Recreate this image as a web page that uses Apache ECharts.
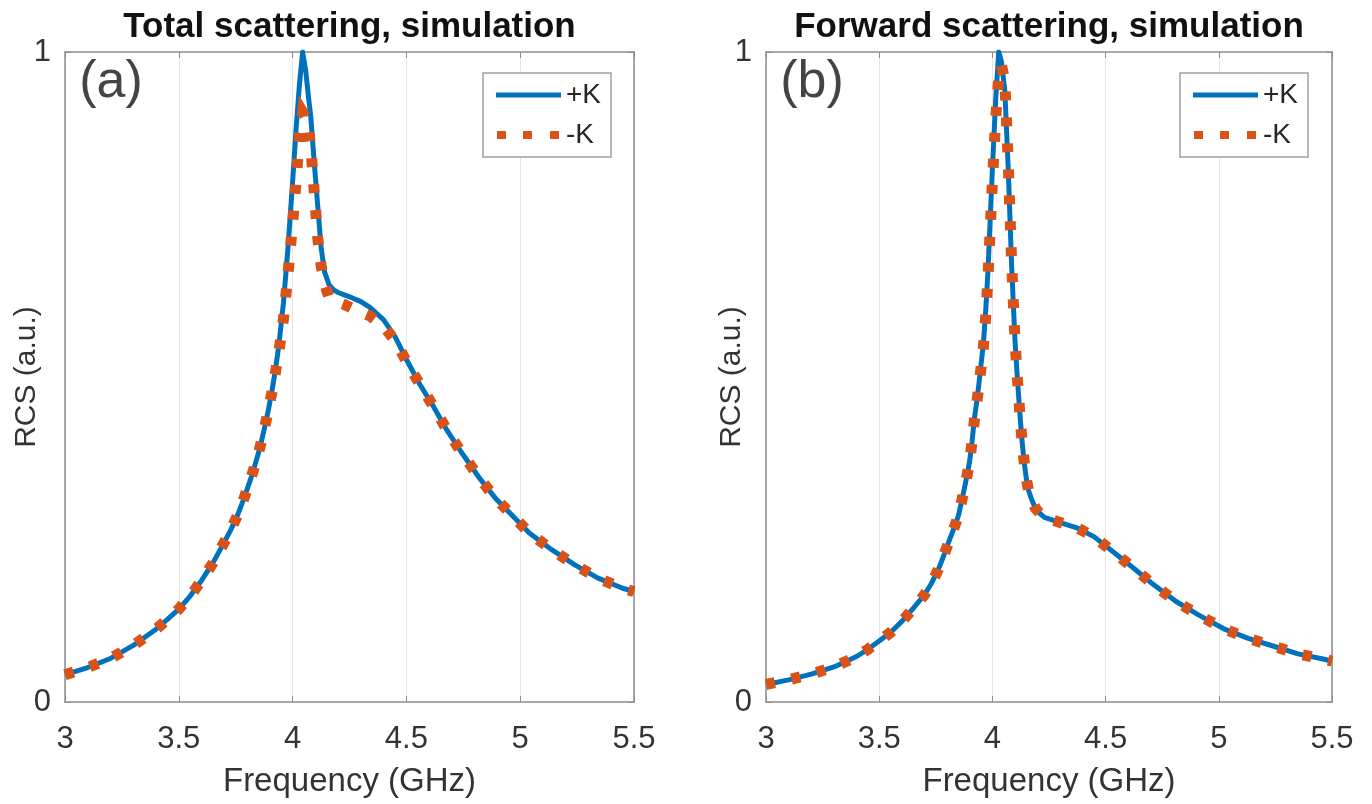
<!DOCTYPE html>
<html>
<head>
<meta charset="utf-8">
<script src="https://cdn.jsdelivr.net/npm/echarts@6/dist/echarts.min.js"></script>
<style>
html,body{margin:0;padding:0;background:#fff;}
#chart{width:1372px;height:804px;}
</style>
</head>
<body>
<div id="chart"></div>
<script>
// ---- data ----
const panelTitles = ['Total scattering, simulation', 'Forward scattering, simulation'];
const panelTags = ['(a)', '(b)'];
const seriesNames = ['+K', '-K'];
const xTickLabels = ['3', '3.5', '4', '4.5', '5', '5.5'];
const yTickLabels = ['0', '1'];

// Panel (a): total scattering
const freqA = [3.00, 3.10, 3.20, 3.30, 3.40, 3.45, 3.50, 3.55, 3.60, 3.65, 3.70, 3.73, 3.76, 3.785, 3.81, 3.83, 3.85, 3.865, 3.88, 3.895, 3.91, 3.925, 3.94, 3.96, 3.98, 4.00, 4.015, 4.03, 4.044, 4.058, 4.07, 4.08, 4.095, 4.11, 4.125, 4.14, 4.16, 4.18, 4.20, 4.23, 4.26, 4.30, 4.34, 4.40, 4.45, 4.50, 4.56, 4.62, 4.68, 4.74, 4.82, 4.89, 4.96, 5.04, 5.14, 5.24, 5.34, 5.45, 5.50];
const totalPlusK = [0.042, 0.053, 0.067, 0.087, 0.112, 0.127, 0.143, 0.163, 0.187, 0.214, 0.246, 0.266, 0.289, 0.312, 0.337, 0.359, 0.383, 0.404, 0.427, 0.452, 0.480, 0.512, 0.550, 0.615, 0.700, 0.800, 0.880, 0.950, 1.000, 0.970, 0.930, 0.900, 0.830, 0.765, 0.700, 0.662, 0.642, 0.634, 0.630, 0.626, 0.622, 0.616, 0.607, 0.588, 0.562, 0.527, 0.488, 0.454, 0.417, 0.385, 0.345, 0.314, 0.289, 0.260, 0.234, 0.211, 0.191, 0.175, 0.170];
const totalMinusK = [0.042, 0.053, 0.067, 0.087, 0.112, 0.127, 0.143, 0.163, 0.187, 0.214, 0.246, 0.266, 0.289, 0.312, 0.337, 0.359, 0.383, 0.404, 0.427, 0.452, 0.478, 0.508, 0.540, 0.590, 0.660, 0.735, 0.800, 0.868, 0.908, 0.900, 0.880, 0.855, 0.785, 0.715, 0.672, 0.645, 0.622, 0.618, 0.615, 0.611, 0.606, 0.600, 0.594, 0.578, 0.556, 0.524, 0.488, 0.454, 0.417, 0.385, 0.345, 0.314, 0.289, 0.260, 0.234, 0.211, 0.191, 0.175, 0.170];

// Panel (b): forward scattering
const freqB = [3.00, 3.10, 3.20, 3.30, 3.40, 3.45, 3.50, 3.55, 3.60, 3.65, 3.70, 3.73, 3.76, 3.785, 3.81, 3.83, 3.85, 3.865, 3.88, 3.89, 3.90, 3.91, 3.92, 3.93, 3.94, 3.95, 3.96, 3.97, 3.98, 3.99, 4.00, 4.015, 4.028, 4.04, 4.055, 4.07, 4.085, 4.10, 4.11, 4.12, 4.13, 4.14, 4.15, 4.16, 4.175, 4.19, 4.21, 4.23, 4.30, 4.38, 4.45, 4.53, 4.62, 4.71, 4.81, 4.91, 5.02, 5.13, 5.25, 5.35, 5.45, 5.50];
const forwardPlusK = [0.027, 0.034, 0.043, 0.054, 0.070, 0.081, 0.094, 0.107, 0.124, 0.144, 0.165, 0.182, 0.203, 0.225, 0.249, 0.267, 0.287, 0.310, 0.335, 0.352, 0.372, 0.400, 0.435, 0.460, 0.488, 0.520, 0.550, 0.600, 0.660, 0.740, 0.820, 0.930, 1.000, 0.985, 0.940, 0.820, 0.670, 0.555, 0.500, 0.450, 0.405, 0.370, 0.343, 0.325, 0.310, 0.298, 0.290, 0.284, 0.276, 0.267, 0.254, 0.232, 0.207, 0.181, 0.155, 0.134, 0.113, 0.098, 0.085, 0.074, 0.067, 0.063];
const forwardMinusK = [0.027, 0.034, 0.043, 0.054, 0.070, 0.081, 0.094, 0.107, 0.124, 0.144, 0.165, 0.182, 0.203, 0.225, 0.249, 0.267, 0.287, 0.310, 0.335, 0.352, 0.372, 0.400, 0.432, 0.457, 0.485, 0.515, 0.545, 0.590, 0.650, 0.725, 0.800, 0.900, 0.960, 0.980, 0.955, 0.830, 0.675, 0.555, 0.500, 0.450, 0.405, 0.370, 0.343, 0.325, 0.310, 0.298, 0.290, 0.284, 0.276, 0.267, 0.254, 0.232, 0.207, 0.181, 0.155, 0.134, 0.113, 0.098, 0.085, 0.074, 0.067, 0.063];

// ---- chart ----
const BLUE = '#0072BD', ORANGE = '#D95319';
const AXIS_COLOR = '#8c8c8c', TEXT = '#333333';
const FONT = '"Liberation Sans", Arial, Helvetica, sans-serif';
const grids = [
  {left: 65, right: 738, top: 52, bottom: 102},
  {left: 766, right: 40, top: 52, bottom: 102}
];
const pair = (xs, ys) => xs.map((x, i) => [x, ys[i]]);

const xAxes = [], yAxes = [];
grids.forEach((g, gi) => {
  xAxes.push({
    type: 'value', gridIndex: gi, position: 'bottom', min: 3, max: 5.5, interval: 0.5,
    name: 'Frequency (GHz)', nameLocation: 'middle', nameGap: 63, nameMoveOverlap: false,
    nameTextStyle: {fontFamily: FONT, fontSize: 33, color: TEXT},
    axisLine: {show: true, lineStyle: {color: AXIS_COLOR, width: 1.5}},
    axisTick: {show: true, inside: true, length: 6, lineStyle: {color: AXIS_COLOR}},
    axisLabel: {show: true, margin: 22, fontFamily: FONT, fontSize: 31, color: TEXT,
      showMinLabel: true, showMaxLabel: true,
      formatter: v => { const i = Math.round((v - 3) / 0.5); return xTickLabels[i] !== undefined ? xTickLabels[i] : ''; }},
    splitLine: {show: true, lineStyle: {color: '#e6e6e6', width: 1}}
  });
  xAxes.push({
    type: 'value', gridIndex: gi, position: 'top', min: 3, max: 5.5, interval: 0.5,
    axisLine: {show: true, onZero: false, lineStyle: {color: AXIS_COLOR, width: 1.5}},
    axisTick: {show: true, inside: true, length: 6, lineStyle: {color: AXIS_COLOR}},
    axisLabel: {show: false}, splitLine: {show: false}
  });
  yAxes.push({
    type: 'value', gridIndex: gi, position: 'left', min: 0, max: 1, interval: 1,
    name: 'RCS (a.u.)', nameLocation: 'middle', nameRotate: 90, nameGap: gi === 0 ? 23 : 19,
    nameMoveOverlap: false,
    nameTextStyle: {fontFamily: FONT, fontSize: 30, color: TEXT},
    axisLine: {show: true, lineStyle: {color: AXIS_COLOR, width: 1.5}},
    axisTick: {show: true, inside: true, length: 6, lineStyle: {color: AXIS_COLOR}},
    axisLabel: {show: true, margin: 14, fontFamily: FONT, fontSize: 31, color: TEXT,
      formatter: v => { const i = Math.round(v); return yTickLabels[i] !== undefined ? yTickLabels[i] : ''; }},
    splitLine: {show: false}
  });
  yAxes.push({
    type: 'value', gridIndex: gi, position: 'right', min: 0, max: 1, interval: 1,
    axisLine: {show: true, onZero: false, lineStyle: {color: AXIS_COLOR, width: 1.5}},
    axisTick: {show: true, inside: true, length: 6, lineStyle: {color: AXIS_COLOR}},
    axisLabel: {show: false}, splitLine: {show: false}
  });
});

function lineSeries(name, data, gi, dotted) {
  return {
    name: name, type: 'line', xAxisIndex: gi * 2, yAxisIndex: gi * 2,
    data: data, showSymbol: false, symbol: 'none', smooth: false,
    animation: false, z: dotted ? 4 : 3,
    lineStyle: dotted
      ? {color: ORANGE, width: 11, type: [9, 17], cap: 'butt', join: 'miter'}
      : {color: BLUE, width: 5, join: 'round'},
    itemStyle: {color: dotted ? ORANGE : BLUE},
    emphasis: {disabled: true}
  };
}

const series = [
  lineSeries(seriesNames[0], pair(freqA, totalPlusK), 0, false),
  lineSeries(seriesNames[1], pair(freqA, totalMinusK), 0, true),
  lineSeries(seriesNames[0], pair(freqB, forwardPlusK), 1, false),
  lineSeries(seriesNames[1], pair(freqB, forwardMinusK), 1, true)
];

// legend sample icons: solid bar for +K, three squares for -K
const ICON_SOLID = 'path://M0,0M0,2.5L65,2.5L65,7.5L0,7.5ZM65,10';
const ICON_DOTS = 'path://M0,0M1,1L10,1L10,9L1,9ZM27,1L36,1L36,9L27,9ZM54,1L63,1L63,9L54,9ZM65,10';

function legendAt(left) {
  return {
    data: [
      {name: seriesNames[0], icon: ICON_SOLID, itemStyle: {color: BLUE}},
      {name: seriesNames[1], icon: ICON_DOTS, itemStyle: {color: ORANGE}}
    ],
    left: left, top: 73, orient: 'vertical',
    backgroundColor: '#fff', borderColor: '#a0a0a0', borderWidth: 1.5,
    padding: [6, 10, 6, 13], itemGap: 8, itemWidth: 65, itemHeight: 10,
    selectedMode: false,
    textStyle: {fontFamily: FONT, fontSize: 28, color: '#262626', lineHeight: 32}
  };
}

const graphics = [];
grids.forEach((g, gi) => {
  const x0 = g.left, x1 = 1372 - g.right;
  graphics.push({type: 'text', x: (x0 + x1) / 2, y: 27, style: {text: panelTitles[gi], fontFamily: FONT, fontSize: 35, fontWeight: 'bold', fill: '#111', textAlign: 'center', textVerticalAlign: 'middle'}});
  graphics.push({type: 'text', x: x0 + 46, y: 83, style: {text: panelTags[gi], fontFamily: FONT, fontSize: 52, fill: '#444', textAlign: 'center', textVerticalAlign: 'middle'}});
});

const chart = echarts.init(document.getElementById('chart'), null, {renderer: 'canvas'});
chart.setOption({
  backgroundColor: '#fff',
  animation: false,
  grid: grids,
  xAxis: xAxes,
  yAxis: yAxes,
  legend: [legendAt(483), legendAt(1180)],
  series: series,
  graphic: graphics
});
</script>
</body>
</html>
